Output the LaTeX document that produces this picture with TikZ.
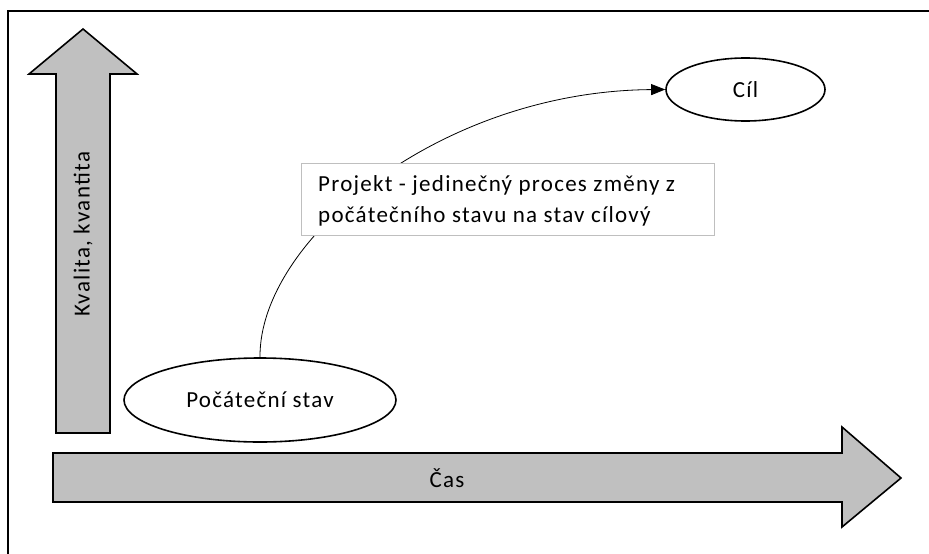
\documentclass[tikz,border=0pt]{standalone}
\usepackage{fontspec}
\setmainfont{Carlito}[LetterSpace=5.5]
\usetikzlibrary{shapes.geometric,arrows.meta}
\begin{document}
\begin{tikzpicture}[x=1pt,y=-1pt,
  bigarrow/.style={draw=black,line width=1.6pt,fill=gray75,line join=miter},
  stateoval/.style={draw=black,line width=1.6pt,fill=white,ellipse,inner sep=0pt},
  lbl/.style={font=\fontsize{23}{31}\selectfont,text=black}]
\definecolor{gray75}{HTML}{C0C0C0}
\definecolor{boxgray}{HTML}{BFBFBF}
\useasboundingbox (0,0) rectangle (929,554);
% outer frame
\draw[line width=1.4pt] (8,11) rectangle (940,570);
% vertical block arrow
\draw[bigarrow] (56,433) -- (56,74) -- (29,74) -- (83,29) -- (137,74) -- (110,74) -- (110,433) -- cycle;
\node[lbl,rotate=90] (quality) at (83,234) {Kvalita, kvantita};
% horizontal block arrow
\draw[bigarrow] (53,453) -- (842,453) -- (842,427) -- (901,478) -- (842,527) -- (842,502) -- (53,502) -- cycle;
\node[lbl] (time) at (447,478) {Čas};
% states
\node[stateoval,minimum width=272,minimum height=84] (start) at (260,400) {};
\node[lbl] at (start.center) {Počáteční stav};
\node[stateoval,minimum width=159,minimum height=63] (goal) at (745.5,89.5) {};
\node[lbl] at (goal.center) {Cíl};
% transition curve
\draw[line width=0.8pt,-{Triangle[length=14pt,width=11pt]}] (start.north) .. controls (259,240) and (440,91) .. (goal.west);
% description box
\node[draw=boxgray,line width=1pt,fill=white,minimum width=413,minimum height=72,inner sep=0pt] (desc) at (507.5,199) {};
\node[lbl,align=left,anchor=west,inner sep=0pt] (desctext) at (318,201) {Projekt - jedinečný proces změny z\\počátečního stavu na stav cílový};
\end{tikzpicture}
\end{document}
